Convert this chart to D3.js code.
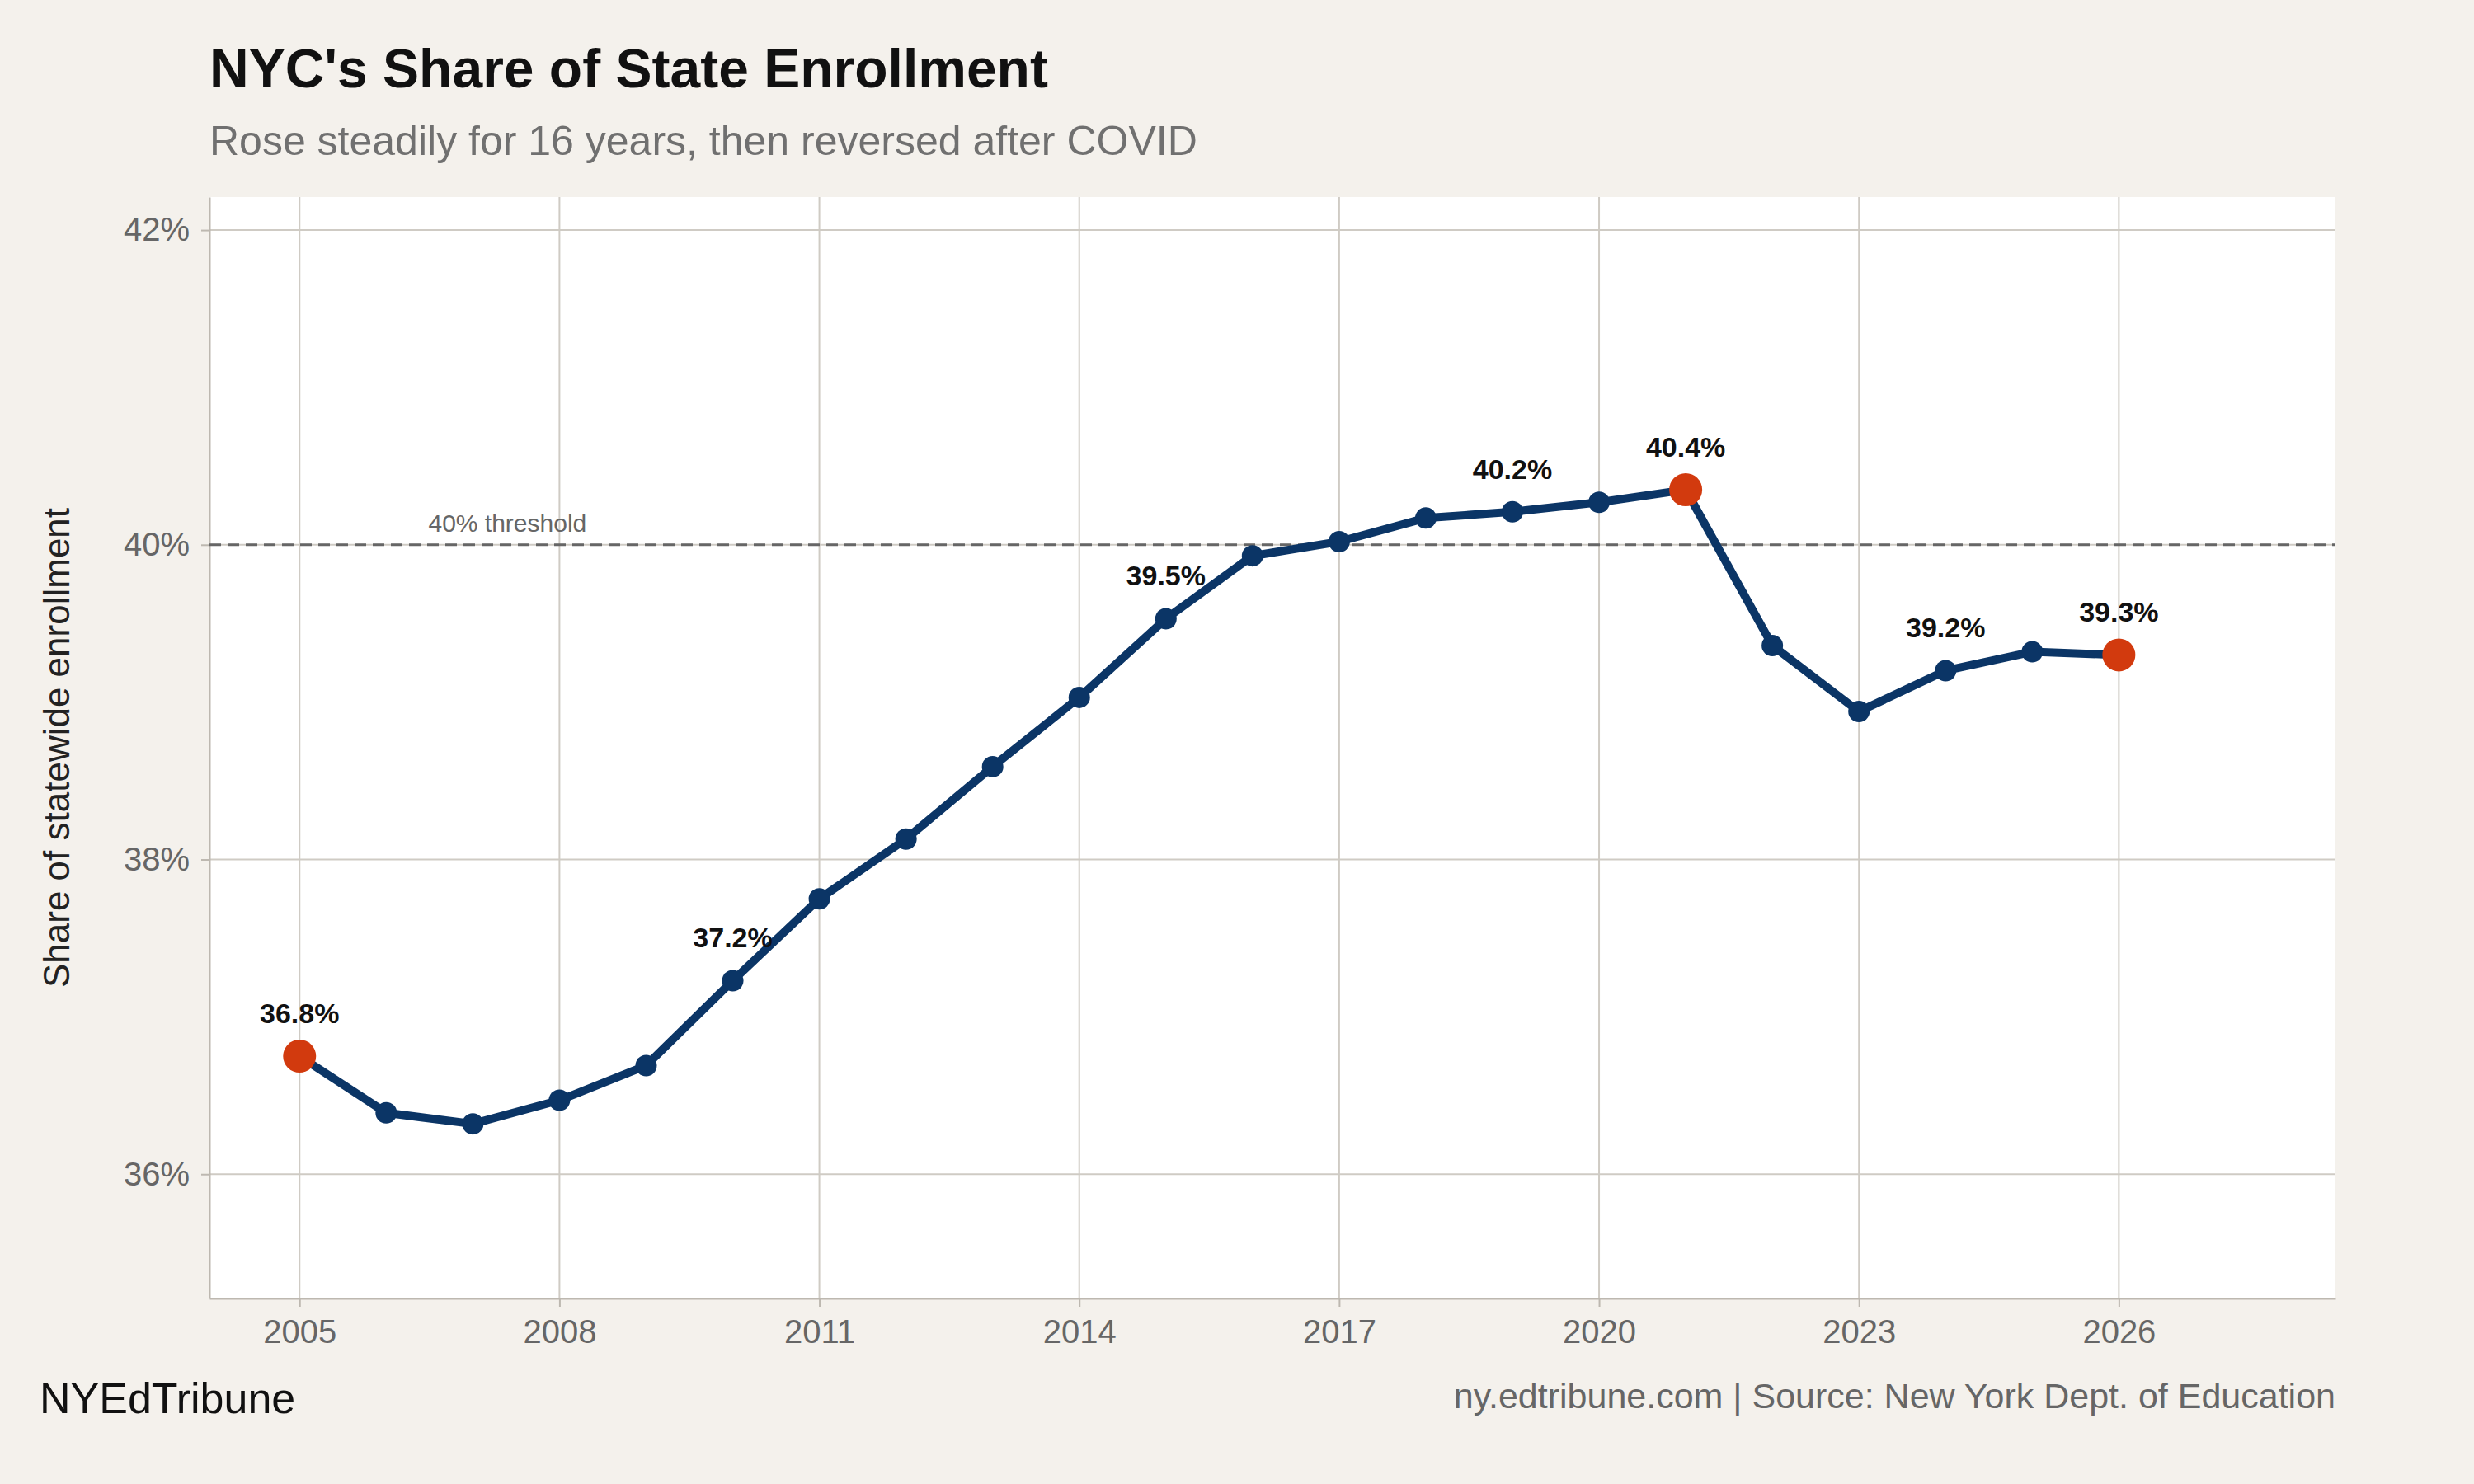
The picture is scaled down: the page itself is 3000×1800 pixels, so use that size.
<!DOCTYPE html>
<html lang="en">
<head>
<meta charset="UTF-8">
<title>NYC's Share of State Enrollment</title>
<style>
  body { margin: 0; background: #f4f1ec; }
  svg { font-family: "Liberation Sans", Arial, sans-serif; }
</style>
</head>
<body>
<script src="https://d3js.org/d3.v7.min.js"></script>
<script>
// data
const years = [2005,2006,2007,2008,2009,2010,2011,2012,2013,2014,2015,2016,2017,2018,2019,2020,2021,2022,2023,2024,2025,2026];
const shares = [36.75,36.39,36.32,36.47,36.69,37.23,37.75,38.13,38.59,39.03,39.53,39.93,40.02,40.17,40.21,40.27,40.35,39.36,38.94,39.20,39.32,39.30];
const labelYears = [2005,2010,2015,2019,2021,2024,2026];
const highlightYears = [2005,2021,2026];
const xTicks = [2005,2008,2011,2014,2017,2020,2023,2026];
const yTicks = [36,38,40,42];

const W = 3000, H = 1800;
const m = {left: 254, right: 168, top: 239, bottom: 225};

const svg = d3.select("body").append("svg")
    .attr("width", W).attr("height", H);

svg.append("rect").attr("width", W).attr("height", H).attr("fill", "#f4f1ec");

const x = d3.scaleLinear().domain([2003.96, 2028.5]).range([m.left, W - m.right]);
const y = d3.scaleLinear().domain([35.21, 42.21]).range([H - m.bottom, m.top]);

// panel
svg.append("rect")
    .attr("x", m.left).attr("y", m.top)
    .attr("width", W - m.left - m.right).attr("height", H - m.top - m.bottom)
    .attr("fill", "#ffffff");

// grid
svg.append("g").selectAll("line").data(xTicks).join("line")
    .attr("x1", d => x(d)).attr("x2", d => x(d))
    .attr("y1", m.top).attr("y2", H - m.bottom)
    .attr("stroke", "#cfcbc4").attr("stroke-width", 2);
svg.append("g").selectAll("line").data(yTicks).join("line")
    .attr("x1", m.left).attr("x2", W - m.right)
    .attr("y1", d => y(d)).attr("y2", d => y(d))
    .attr("stroke", "#cfcbc4").attr("stroke-width", 2);

// axes
const xAxis = svg.append("g")
    .attr("transform", `translate(0,${H - m.bottom})`)
    .call(d3.axisBottom(x).tickValues(xTicks).tickFormat(d3.format("d")).tickSize(10).tickSizeOuter(0).tickPadding(16));
const yAxis = svg.append("g")
    .attr("transform", `translate(${m.left},0)`)
    .call(d3.axisLeft(y).tickValues(yTicks).tickFormat(d => d + "%").tickSize(10).tickSizeOuter(0).tickPadding(14));
[xAxis, yAxis].forEach(g => {
  g.select(".domain").attr("stroke", "#bdb8b0").attr("stroke-width", 2);
  g.selectAll(".tick line").attr("stroke", "#bdb8b0").attr("stroke-width", 2);
  g.selectAll(".tick text").attr("font-size", 40).attr("fill", "#666").attr("font-family", "Liberation Sans, Arial, sans-serif");
});

// threshold
svg.append("line")
    .attr("x1", m.left).attr("x2", W - m.right)
    .attr("y1", y(40)).attr("y2", y(40))
    .attr("stroke", "#666").attr("stroke-width", 3).attr("stroke-dasharray", "14,8");
svg.append("text")
    .attr("x", x(2007.4)).attr("y", y(40) - 16)
    .attr("text-anchor", "middle").attr("font-size", 30).attr("fill", "#666")
    .text("40% threshold");

// line
const pts = years.map((yr, i) => ({year: yr, v: shares[i]}));
svg.append("path").datum(pts)
    .attr("fill", "none").attr("stroke", "#0b3566").attr("stroke-width", 10)
    .attr("stroke-linejoin", "round")
    .attr("d", d3.line().x(d => x(d.year)).y(d => y(d.v)));

svg.append("g").selectAll("circle").data(pts).join("circle")
    .attr("cx", d => x(d.year)).attr("cy", d => y(d.v))
    .attr("r", d => highlightYears.includes(d.year) ? 20 : 13)
    .attr("fill", d => highlightYears.includes(d.year) ? "#d23a0e" : "#0b3566");

svg.append("g").selectAll("text").data(pts.filter(d => labelYears.includes(d.year))).join("text")
    .attr("x", d => x(d.year)).attr("y", d => y(d.v) - 40)
    .attr("text-anchor", "middle").attr("font-size", 34).attr("font-weight", "bold").attr("fill", "#111")
    .text(d => d.v.toFixed(1) + "%");

// titles
svg.append("text").attr("x", 254).attr("y", 106)
    .attr("font-size", 66).attr("font-weight", "bold").attr("fill", "#111")
    .text("NYC's Share of State Enrollment");
svg.append("text").attr("x", 254).attr("y", 188)
    .attr("font-size", 50).attr("fill", "#707070")
    .text("Rose steadily for 16 years, then reversed after COVID");
svg.append("text")
    .attr("transform", `translate(84,${(m.top + H - m.bottom) / 2}) rotate(-90)`)
    .attr("text-anchor", "middle").attr("font-size", 44).attr("fill", "#222")
    .text("Share of statewide enrollment");

// footer
svg.append("text").attr("x", 48).attr("y", 1714)
    .attr("font-size", 52).attr("fill", "#111").text("NYEdTribune");
svg.append("text").attr("x", W - m.right).attr("y", 1708)
    .attr("text-anchor", "end").attr("font-size", 43).attr("fill", "#666")
    .text("ny.edtribune.com | Source: New York Dept. of Education");
</script>
</body>
</html>
